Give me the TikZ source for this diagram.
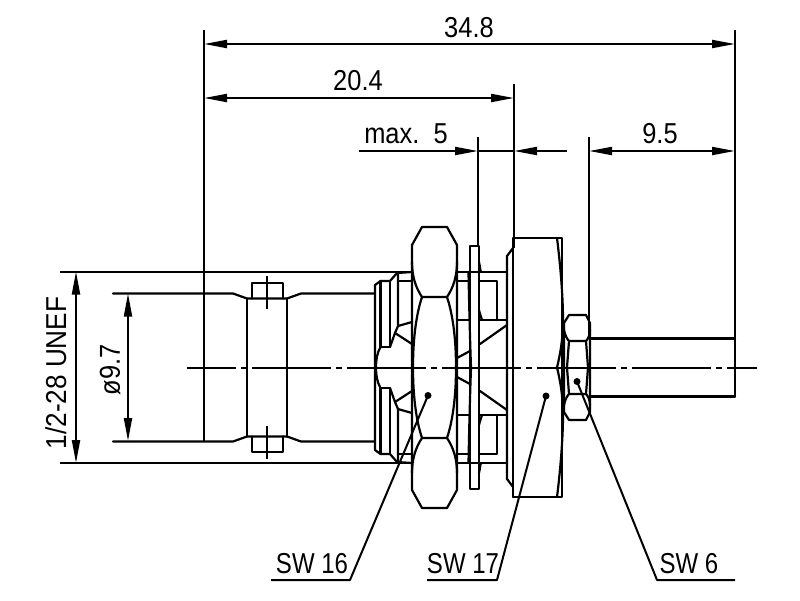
\documentclass[tikz,border=0pt]{standalone}
\usepackage{fontspec}
\setmainfont{Liberation Sans}
\usetikzlibrary{arrows.meta}
\tikzset{
  part/.style={line width=2.2pt,line cap=round,line join=round},
  thinl/.style={line width=2pt,line cap=butt},
  dim/.style={line width=2pt,{Triangle[length=23pt,width=8pt]}-{Triangle[length=23pt,width=8pt]}},
  dimr/.style={line width=2pt,-{Triangle[length=23pt,width=8pt]}},
  centre/.style={line width=2pt,dash pattern=on 79pt off 5pt on 6pt off 5pt,dash phase=30pt},
  lab/.style={inner sep=0pt,font=\fontsize{24}{24}\selectfont},
  dotm/.style={circle,fill=black,inner sep=0pt,minimum size=7pt},
}
\newcommand{\tall}[1]{\scalebox{1.06}[1.2]{#1}}
\newcommand{\halfpart}{%
  % left body
  \draw[part] (113,293.5) -- (233,293.5) -- (247,298.5) -- (287,298.5) -- (301,293.5) -- (375,293.5);
  \draw[part] (252,298.5) -- (252,283) -- (283,283) -- (283,298.5);
  \draw[thinl] (267,276) -- (267,309);
  % coupling end
  \draw[part] (375,367.5) -- (375,285) -- (380.5,281) -- (390,281) -- (397,273) -- (412,272);
  \draw[part] (380.5,281) -- (380.5,347) -- (390,347) -- (390,281);
  \draw[part] (380.5,347) .. controls (377,353) and (376,360) .. (376,367.5);
  \draw[part] (398,273) -- (398,326) -- (412,322);
  \draw[part] (398,281) -- (412,281);
  \draw[part] (390,347) -- (395,333) -- (398,326);
  \draw[part] (395,333) -- (412,344);
  % large nut
  \draw[part] (412,367.5) -- (412,245) -- (422,227) -- (447,227) -- (457,245) -- (457,367.5);
  \draw[part] (412,262) .. controls (412,277) and (416,288) .. (422,297) -- (447,297) .. controls (453,288) and (457,277) .. (457,262);
  \draw[part] (422,297) .. controls (417,312) and (413,335) .. (413,367.5);
  \draw[part] (447,297) .. controls (452,312) and (456,335) .. (456,367.5);
  % between nut and washer
  \draw[part] (457,272) -- (507,272);
  \draw[part] (457,281) -- (470,281);
  \draw[part] (457,320) -- (470,320);
  \draw[part] (457,358) -- (470,351);
  \draw[part] (480,281) -- (497,281) -- (497,320);
  \draw[part] (480,320) -- (507,320);
  \draw[part] (480,344) -- (507,325);
  \draw[part] (468.5,272) .. controls (469,300) and (470,340) .. (471,367.5);
  \draw[part] (479,262) .. controls (480,266) and (480,270) .. (481,272);
  \draw[part] (479,310) .. controls (480,314) and (481,317) .. (482,320);
  % washer
  \draw[part] (470,367.5) -- (470,246) -- (479,246) -- (479,367.5);
  % flange
  \draw[part] (507,367.5) -- (507,256) -- (513,248);
  \draw[part] (513,367.5) -- (513,238) -- (562,238) -- (562,367.5);
  \draw[part] (557,238) .. controls (561,270) and (563,300) .. (563,320) .. controls (563,340) and (560,355) .. (557,367.5);
  % small nut
  \draw[part] (564,367.5) -- (564,323) -- (569,315) -- (586,315) -- (590,323) -- (590,367.5);
  \draw[part] (564,330) .. controls (565,335) and (567,339) .. (569,341) -- (586,341) .. controls (588,339) and (590,335) .. (590,330);
  \draw[part] (569,341) -- (567,367.5);
  \draw[part] (586,341) -- (588,367.5);
  % pin
  \draw[part] (590,338.5) -- (735,338.5);
}
\begin{document}
\begin{tikzpicture}[x=1pt,y=-1pt]
  \useasboundingbox (0,0) rectangle (800,600);
  % construction points
  \coordinate (ext1t) at (204,30);   \coordinate (ext1b) at (204,441);
  \coordinate (ext2t) at (514,84);   \coordinate (ext2b) at (514,248);
  \coordinate (ext3t) at (478,137);  \coordinate (ext3b) at (478,246);
  \coordinate (ext4t) at (589,137);  \coordinate (ext4b) at (589,338);
  \coordinate (ext5t) at (735,30);   \coordinate (ext5b) at (735,396);
  \coordinate (a1) at (204,44);  \coordinate (a2) at (735,44);
  \coordinate (b1) at (204,98);  \coordinate (b2) at (514,98);
  \coordinate (c1) at (359,151); \coordinate (c2) at (478,151);
  \coordinate (c3) at (567,151); \coordinate (c4) at (514,151);
  \coordinate (d1) at (589,151); \coordinate (d2) at (735,151);
  \coordinate (e1) at (76,271.5);  \coordinate (e2) at (76,463);
  \coordinate (f1) at (128,293.5); \coordinate (f2) at (128,441);
  \coordinate (g1) at (60,271.5);  \coordinate (g2) at (412,271.5);
  \coordinate (g3) at (60,463);    \coordinate (g4) at (412,463);
  \coordinate (cl1) at (187,367.5); \coordinate (cl2) at (757,367.5);

  % body
  \halfpart
  \begin{scope}[shift={(0,735)},yscale=-1]
    \halfpart
  \end{scope}
  \draw[part] (247,298.5) -- (247,436.5);
  \draw[part] (287,298.5) -- (287,436.5);
  \draw[part] (735,338.5) -- (735,396.5);
  \draw[part] (513,248) -- (513,497);

  % outer lines and extensions
  \draw[thinl] (g1) -- (g2);
  \draw[thinl] (g3) -- (g4);
  \draw[thinl] (ext1t) -- (ext1b);
  \draw[thinl] (ext2t) -- (ext2b);
  \draw[thinl] (ext3t) -- (ext3b);
  \draw[thinl] (ext4t) -- (ext4b);
  \draw[thinl] (ext5t) -- (ext5b);
  \draw[centre] (cl1) -- (cl2);

  % dimensions
  \draw[dim] (a1) -- (a2);
  \draw[dim] (b1) -- (b2);
  \draw[dimr] (c1) -- (c2);
  \draw[thinl] (c2) -- (c4);
  \draw[dimr] (c3) -- (c4);
  \draw[dim] (d1) -- (d2);
  \draw[dim] (e1) -- (e2);
  \draw[dim] (f1) -- (f2);

  % labels
  \node[lab] (l348) at (469,28) {\tall{34.8}};
  \node[lab] (l204) at (358,81) {\tall{20.4}};
  \node[lab] (lmax) at (406,134) {\tall{max.\ \ 5}};
  \node[lab] (l95) at (660,134) {\tall{9.5}};
  \node[lab,rotate=90] (lunef) at (56,373) {\scalebox{1.09}[1.2]{1/2-28 UNEF}};
  \node[lab,rotate=90] (lphi) at (110,370) {\tall{ø9.7}};

  % leaders
  \node[dotm] (d16) at (428,395.5) {};
  \node[dotm] (d17) at (546,396) {};
  \node[dotm] (d6) at (577,381.5) {};
  \coordinate (k16) at (350,580); \coordinate (e16) at (271,580);
  \coordinate (k17) at (497,580); \coordinate (e17) at (427,580);
  \coordinate (k6) at (657,580);  \coordinate (e6) at (735,580);
  \draw[thinl,line join=round] (d16.center) -- (k16) -- (e16);
  \draw[thinl,line join=round] (d17.center) -- (k17) -- (e17);
  \draw[thinl,line join=round] (d6.center) -- (k6) -- (e6);
  \node[lab] (s16) at (312,564) {\scalebox{1}[1.2]{SW 16}};
  \node[lab] (s17) at (463,564) {\scalebox{1}[1.2]{SW 17}};
  \node[lab] (s6) at (689,564) {\scalebox{1}[1.2]{SW 6}};
\end{tikzpicture}
\end{document}
